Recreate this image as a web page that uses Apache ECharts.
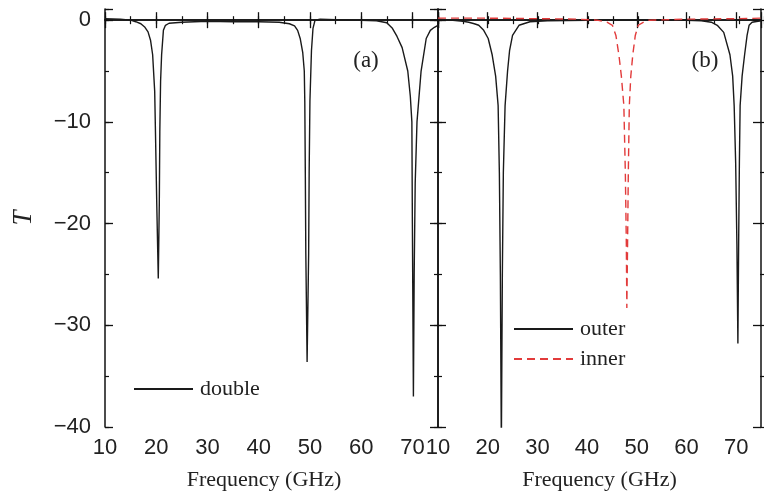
<!DOCTYPE html>
<html><head><meta charset="utf-8">
<script src="https://cdn.jsdelivr.net/npm/echarts@6/dist/echarts.min.js"></script>
<style>html,body{margin:0;padding:0;background:#fff}#c{width:764px;height:496px}</style>
</head><body><div id="c"></div>
<script>
// ---- data ----
const xTickLabels = [10, 20, 30, 40, 50, 60, 70];
const yTickLabels = [-40, -30, -20, -10, 0];
const panelLabels = ['(a)', '(b)'];
const seriesNames = ['double', 'outer', 'inner'];

// panel (a): double
const doubleCurve = [
  [10, 0.15], [13, 0.1], [15, 0], [16, -0.15], [17, -0.35], [17.8, -0.7], [18.4, -1.15],
  [18.9, -2], [19.3, -3.4], [19.7, -7], [19.85, -11], [20.1, -18], [20.4, -25.4],
  [20.6, -18], [20.7, -11], [20.85, -6], [21.05, -3.4], [21.4, -1.0], [21.8, -0.5],
  [22.5, -0.3], [25, -0.2], [30, -0.1], [35, -0.15], [40, -0.15], [44, -0.2], [46, -0.35],
  [47, -0.55], [47.6, -1], [48.1, -1.8], [48.6, -3.2], [48.9, -5], [49.0, -8], [49.1, -15],
  [49.2, -23], [49.45, -33.6], [49.75, -23], [49.85, -15], [50.0, -8], [50.3, -3],
  [50.6, -0.8], [51.0, 0], [52, 0.1], [55, 0.05], [60, 0], [63, -0.05], [65, -0.25],
  [66.1, -0.8], [67, -1.6], [68, -2.7], [69.1, -5], [69.6, -7.5], [69.9, -10], [70.0, -20],
  [70.2, -37], [70.35, -25], [70.55, -16], [70.9, -10], [71.7, -5], [72.7, -1.8],
  [73.5, -1.0], [74.3, -0.7], [75, -0.5]
];
// panel (b): outer
const outerCurve = [
  [10, 0.1], [13, 0], [15, -0.1], [16.2, -0.2], [17.3, -0.35], [18.2, -0.5], [19.2, -1.0],
  [20.1, -1.8], [20.9, -3.4], [21.6, -5.5], [22.1, -8.4], [22.35, -15], [22.55, -25],
  [22.75, -42], [22.95, -25], [23.15, -15], [23.5, -8.4], [24.0, -5], [24.4, -3],
  [25.0, -1.5], [26.3, -0.5], [28.5, -0.15], [32, -0.05], [40, 0], [50, 0], [60, 0],
  [63, -0.05], [65, -0.2], [66.2, -0.5], [67.5, -1.2], [68.75, -3.4], [69.3, -5.5],
  [69.6, -8.4], [69.9, -14], [70.15, -22], [70.35, -31.8], [70.5, -22], [70.65, -14],
  [70.8, -8.4], [71.2, -5.5], [71.7, -3.4], [72.2, -1.5], [72.6, -0.5], [73.2, -0.2], [75, -0.05]
];
// panel (b): inner
const innerCurve = [
  [10, 0.2], [20, 0.2], [30, 0.15], [38, 0.1], [42, 0], [44, -0.2], [45.1, -0.5],
  [45.8, -1.5], [46.4, -3.4], [46.9, -5.5], [47.4, -8.4], [47.7, -15], [47.9, -22],
  [48.0, -28.3], [48.15, -22], [48.3, -15], [48.5, -8.4], [48.8, -5.5], [49.2, -3.4],
  [49.7, -1.5], [50.3, -0.5], [51.5, -0.15], [52.5, 0], [60, 0.1], [70, 0.15], [75, 0.2]
];

// ---- chart ----
const XMIN = 10, XMAX = 75, YMIN = -40, YMAX = 1.1;
const SERIF = 'Liberation Serif';
const SANS = 'Liberation Sans';
const AX = '#111';
const rects = [
  { left: 105, right: 326, top: 9, bottom: 69 },
  { left: 438, right: -8, top: 9, bottom: 69 }
];
const grid = [], xAxis = [], yAxis = [];
rects.forEach((r, p) => {
  grid.push(Object.assign({}, r), Object.assign({}, r)); // major, minor
  const gMaj = p * 2, gMin = p * 2 + 1;
  const fmtX = v => xTickLabels.includes(v) ? String(v) : '';
  const fmtY = v => yTickLabels.includes(v) ? (v < 0 ? '\u2212' + (-v) : String(v)) : '';
  xAxis.push({
    type: 'value', gridIndex: gMaj, position: 'bottom', min: XMIN, max: XMAX, interval: 10,
    axisLine: { show: true, lineStyle: { color: AX, width: 1.5 } },
    axisTick: { show: true, inside: true, length: 8, lineStyle: { color: AX, width: 1.3 } },
    axisLabel: { show: true, formatter: fmtX, color: '#222', fontFamily: SANS, fontSize: 22, margin: 10 },
    splitLine: { show: false },
    name: 'Frequency (GHz)', nameLocation: 'middle', nameGap: 42,
    nameTextStyle: { fontFamily: SERIF, fontSize: 22, color: '#222', padding: p === 0 ? [0, 15, 0, 0] : [0, 0, 0, 0] }
  });
  xAxis.push({
    type: 'value', gridIndex: gMaj, position: 'top', min: XMIN, max: XMAX, interval: 10,
    axisLine: { show: true, lineStyle: { color: AX, width: 1.5 } },
    axisTick: { show: true, inside: true, length: 8, lineStyle: { color: AX, width: 1.3 } },
    axisLabel: { show: false }, splitLine: { show: false }
  });
  ['bottom', 'top'].forEach(pos => xAxis.push({
    type: 'value', gridIndex: gMin, position: pos, min: XMIN, max: XMAX, interval: 5,
    axisLine: { show: false },
    axisTick: { show: true, inside: true, length: 4, lineStyle: { color: AX, width: 1.2 } },
    axisLabel: { show: false }, splitLine: { show: false }
  }));
  yAxis.push({
    type: 'value', gridIndex: gMaj, position: 'left', min: YMIN, max: YMAX, interval: 10,
    axisLine: { show: true, lineStyle: { color: AX, width: 1.5 } },
    axisTick: { show: true, inside: true, length: 8, lineStyle: { color: AX, width: 1.3 } },
    axisLabel: { show: p === 0, formatter: fmtY, color: '#222', fontFamily: SANS, fontSize: 22, margin: 14 },
    splitLine: { show: false },
    name: p === 0 ? 'T' : '', nameLocation: 'middle', nameGap: 68, nameRotate: 90,
    nameTextStyle: { fontFamily: SERIF, fontStyle: 'italic', fontSize: 27, color: '#222' }
  });
  yAxis.push({
    type: 'value', gridIndex: gMaj, position: 'right', min: YMIN, max: YMAX, interval: 10,
    axisLine: { show: true, lineStyle: { color: AX, width: 1.5 } },
    axisTick: { show: true, inside: true, length: 8, lineStyle: { color: AX, width: 1.3 } },
    axisLabel: { show: false }, splitLine: { show: false }
  });
  ['left', 'right'].forEach(pos => yAxis.push({
    type: 'value', gridIndex: gMin, position: pos, min: YMIN, max: YMAX, interval: 5,
    axisLine: { show: false },
    axisTick: { show: true, inside: true, length: 4, lineStyle: { color: AX, width: 1.2 } },
    axisLabel: { show: false }, splitLine: { show: false }
  }));
});

const legendText = { fontFamily: SERIF, fontSize: 22, color: '#222', padding: [0, 0, 0, 2] };
const option = {
  animation: false,
  backgroundColor: '#fff',
  grid, xAxis, yAxis,
  legend: [
    {
      data: [seriesNames[0]], left: 128, top: 373, itemWidth: 59, itemHeight: 14,
      selectedMode: false, itemStyle: { opacity: 0 }, textStyle: legendText
    },
    {
      data: [seriesNames[1], seriesNames[2]], orient: 'vertical', left: 508, top: 313,
      itemWidth: 59, itemHeight: 14, itemGap: 8, selectedMode: false,
      itemStyle: { opacity: 0 }, textStyle: legendText
    }
  ],
  series: [
    {
      name: seriesNames[0], type: 'line', xAxisIndex: 0, yAxisIndex: 0, data: doubleCurve,
      symbol: 'none', showSymbol: false, clip: true,
      lineStyle: { color: '#1a1a1a', width: 1.4 }, itemStyle: { color: '#1a1a1a' }
    },
    {
      name: seriesNames[1], type: 'line', xAxisIndex: 4, yAxisIndex: 4, data: outerCurve,
      symbol: 'none', showSymbol: false, clip: true,
      lineStyle: { color: '#1a1a1a', width: 1.4 }, itemStyle: { color: '#1a1a1a' }
    },
    {
      name: seriesNames[2], type: 'line', xAxisIndex: 4, yAxisIndex: 4, data: innerCurve,
      symbol: 'none', showSymbol: false, clip: true,
      lineStyle: { color: '#e23b3b', width: 1.4, type: [8, 5] }, itemStyle: { color: '#e23b3b' }
    }
  ],
  graphic: [
    { type: 'text', x: 366, y: 61, style: { text: panelLabels[0], font: '23px "Liberation Serif"', fill: '#222', align: 'center', verticalAlign: 'middle' } },
    { type: 'text', x: 705, y: 61, style: { text: panelLabels[1], font: '23px "Liberation Serif"', fill: '#222', align: 'center', verticalAlign: 'middle' } }
  ]
};
const chart = echarts.init(document.getElementById('c'), null, { renderer: 'canvas' });
chart.setOption(option);
</script>
</body></html>
